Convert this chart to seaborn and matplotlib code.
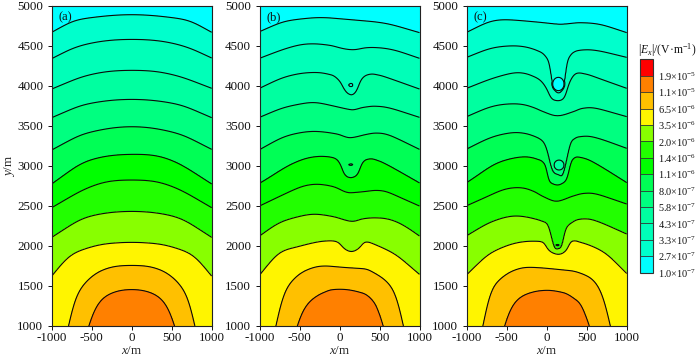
import numpy as np
import matplotlib
matplotlib.use("Agg")
import matplotlib.pyplot as plt
import seaborn as sns

# Contour-line heights: (x in m, y in m) for the 11 lines, top to bottom
a_x = [-1000, -813, -479, 0, 479, 813, 1000]
A_LINES = [
    (a_x, [4671, 4775, 4858, 4892, 4858, 4775, 4671]),
    (a_x, [4342, 4437, 4542, 4583, 4542, 4437, 4350]),
    ([-1000, -729, -396, 0, 396, 729, 1000], [3962, 4075, 4167, 4196, 4167, 4075, 3971]),
    ([-1000, -729, -396, 0, 396, 729, 1000], [3604, 3721, 3804, 3833, 3804, 3721, 3604]),
    ([-1000, -729, -396, 0, 396, 729, 1000], [3200, 3346, 3450, 3492, 3450, 3346, 3208]),
    ([-1000, -729, -396, 0, 396, 729, 1000], [2775, 2971, 3108, 3146, 3108, 2950, 2775]),
    ([-1000, -729, -396, 0, 396, 729, 1000], [2479, 2637, 2783, 2825, 2783, 2637, 2479]),
    ([-1000, -729, -396, 0, 396, 729, 1000], [2108, 2283, 2400, 2433, 2400, 2283, 2108]),
    ([-1000, -854, -604, -312, 0, 312, 604, 854, 1000], [1625, 1804, 1958, 2029, 2046, 2029, 1958, 1804, 1625]),
    ([-1000, -820, -792, -771, -737, -646, -554, -438, -312, -188, 0, 188, 312, 438, 554, 646, 737, 771, 792, 820, 1000],
     [400, 700, 1000, 1200, 1325, 1471, 1575, 1667, 1721, 1750, 1758, 1750, 1721, 1667, 1575, 1471, 1325, 1200, 1000, 700, 400]),
    ([-1000, -590, -554, -479, -396, -312, -146, 0, 146, 312, 396, 479, 554, 590, 1000],
     [300, 700, 1000, 1200, 1325, 1388, 1446, 1458, 1446, 1388, 1325, 1200, 1000, 700, 300]),
]
B_LINES = [
    ([-1000, -783, -492, -158, 142, 425, 717, 1000], [4679, 4775, 4837, 4854, 4829, 4804, 4750, 4667]),
    ([-1000, -783, -533, -325, -117, 50, 175, 342, 508, 758, 1000],
     [4346, 4429, 4508, 4529, 4508, 4467, 4454, 4479, 4479, 4429, 4346]),
    ([-1000, -783, -533, -263, -96, 8, 62, 142, 217, 267, 342, 467, 717, 1000],
     [3971, 4075, 4150, 4171, 4138, 4054, 3950, 3887, 3942, 4075, 4138, 4150, 4063, 3962]),
    ([-1000, -783, -492, -263, -75, 142, 300, 467, 717, 1000],
     [3608, 3700, 3775, 3792, 3750, 3704, 3733, 3750, 3700, 3608]),
    ([-1000, -783, -492, -263, -33, 142, 342, 467, 717, 1000],
     [3204, 3325, 3417, 3433, 3400, 3354, 3396, 3417, 3346, 3208]),
    ([-1000, -929, -700, -450, -221, -54, 17, 50, 154, 237, 279, 342, 467, 717, 1000],
     [2783, 2825, 2971, 3088, 3125, 3096, 3013, 2908, 2854, 2908, 3033, 3083, 3083, 2950, 2788]),
    ([-1000, -783, -533, -263, -75, 133, 300, 508, 717, 1000],
     [2500, 2604, 2721, 2775, 2741, 2666, 2679, 2700, 2625, 2500]),
    ([-1000, -825, -533, -283, -75, 154, 300, 467, 717, 883, 1000],
     [2125, 2250, 2362, 2400, 2366, 2308, 2341, 2354, 2304, 2208, 2125]),
    ([-1000, -825, -533, -283, -33, 71, 154, 237, 321, 508, 758, 1000],
     [1637, 1854, 1987, 2050, 2054, 1958, 1929, 1966, 2050, 1991, 1854, 1646]),
    ([-1000, -825, -796, -771, -658, -450, -200, 50, 300, 508, 675, 767, 800, 830, 1000],
     [400, 700, 1000, 1208, 1500, 1687, 1754, 1733, 1716, 1625, 1479, 1250, 1000, 700, 400]),
    ([-1000, -580, -546, -492, -325, -117, 50, 300, 467, 542, 554, 590, 1000],
     [300, 700, 1000, 1167, 1354, 1450, 1458, 1408, 1271, 1125, 1000, 700, 300]),
]
C_LINES = [
    ([-1000, -792, -417, -125, 125, 458, 750, 1000], [4671, 4775, 4825, 4800, 4775, 4792, 4750, 4667]),
    ([-1000, -792, -417, -208, -62, 21, 50, 58, 83, 146, 208, 233, 237, 258, 333, 400, 479, 708, 1000],
     [4358, 4442, 4504, 4479, 4417, 4325, 4200, 4054, 3958, 3908, 3950, 4054, 4200, 4325, 4421, 4447, 4458, 4429, 4358]),
    ([-1000, -792, -417, -187, -62, 8, 42, 146, 229, 279, 354, 458, 708, 1000],
     [3971, 4054, 4167, 4137, 4054, 3950, 3867, 3817, 3867, 4033, 4150, 4167, 4075, 3971]),
    ([-1000, -792, -375, -208, -42, 146, 333, 479, 708, 1000],
     [3617, 3708, 3779, 3750, 3679, 3629, 3679, 3733, 3700, 3617]),
    ([-1000, -792, -417, -208, -42, 21, 50, 83, 146, 217, 250, 292, 340, 396, 542, 750, 1000],
     [3212, 3317, 3421, 3396, 3304, 3137, 2992, 2917, 2892, 2917, 3075, 3270, 3335, 3367, 3375, 3312, 3221]),
    ([-1000, -937, -708, -375, -208, -83, 0, 8, 42, 146, 229, 271, 279, 312, 396, 500, 750, 1000],
     [2792, 2833, 2992, 3108, 3117, 3075, 2992, 2867, 2792, 2762, 2804, 2887, 2950, 3075, 3117, 3096, 2950, 2792]),
    ([-1000, -792, -583, -375, -208, -42, 146, 333, 500, 708, 1000],
     [2504, 2596, 2692, 2733, 2708, 2617, 2562, 2625, 2667, 2625, 2525]),
    ([-1000, -792, -542, -375, -167, -42, 33, 62, 83, 146, 200, 217, 271, 396, 542, 750, 1000],
     [2129, 2254, 2354, 2379, 2346, 2304, 2221, 2096, 2000, 1967, 2000, 2158, 2262, 2333, 2342, 2262, 2150]),
    ([-1000, -792, -583, -375, -208, -42, 21, 146, 250, 300, 375, 583, 792, 1000],
     [1642, 1846, 1971, 2042, 2062, 2046, 1950, 1896, 1950, 2054, 2062, 1992, 1867, 1658]),
    ([-1000, -820, -792, -771, -667, -458, -250, 0, 292, 542, 708, 783, 800, 830, 1000],
     [400, 700, 1000, 1283, 1512, 1679, 1737, 1721, 1692, 1617, 1408, 1117, 1000, 700, 400]),
    ([-1000, -576, -542, -479, -333, -167, 0, 208, 396, 521, 550, 586, 1000],
     [300, 700, 1000, 1200, 1367, 1429, 1446, 1417, 1304, 1117, 1000, 700, 300]),
]
# Closed loops: (level, centre x, centre y, half width, half height)
A_LOOPS = []
B_LOOPS = [(2, 142, 4012, 25, 20), (5, 142, 3017, 24, 9)]
C_LOOPS = [(1, 146, 4025, 71, 83), (4, 154, 3012, 62, 62), (7, 137, 2012, 20, 8)]
DIP_CENTRES = [None, 142, 146]

PANEL_NAMES = ["(a)", "(b)", "(c)"]
LEVEL_LABELS = ["1.0", "2.7", "3.3", "4.3", "5.8", "8.0", "1.1", "1.4", "2.0", "3.5", "6.5", "1.1", "1.9"]
LEVEL_EXPONENTS = [7, 7, 7, 7, 7, 7, 6, 6, 6, 6, 6, 5, 5]
COLORS = ["#00FFFF", "#00FFCC", "#00FFB8", "#00FFA0", "#00FF80", "#00FF55", "#00FF00",
          "#22FF00", "#88FF00", "#FFF500", "#FFC000", "#FF8000", "#FF0000"]
X_TICKS = [-1000, -500, 0, 500, 1000]
Y_TICKS = [1000, 1500, 2000, 2500, 3000, 3500, 4000, 4500, 5000]

sns.set_theme(style="ticks", rc={"axes.unicode_minus": False})
plt.rcParams.update({
    "font.family": ["Liberation Serif", "DejaVu Sans"],
    "mathtext.fontset": "custom",
    "mathtext.rm": "Liberation Serif",
    "mathtext.it": "Liberation Serif:italic",
    "mathtext.default": "regular",
    "font.size": 9,
    "axes.linewidth": 0.8,
    "axes.edgecolor": "#222222",
    "xtick.color": "#111111",
    "ytick.color": "#111111",
    "text.color": "#111111",
})
palette = sns.color_palette(COLORS)
cmap = matplotlib.colors.ListedColormap(palette)
levels = np.arange(0, 14)

gx = np.arange(-1000, 1001, 10.0)
gy = np.arange(1000, 5001, 5.0)


def akima(xs, ys, xq):
    """Smooth curve through the read points, without ringing beside steep walls."""
    xs = np.asarray(xs, float)
    ys = np.asarray(ys, float)
    h = np.diff(xs)
    d = np.diff(ys) / h
    dd = np.r_[2 * d[0] - d[1], d[0] * 1.0, d, d[-1] * 1.0, 2 * d[-1] - d[-2]]
    w1 = np.abs(dd[3:] - dd[2:-1])
    w2 = np.abs(dd[1:-2] - dd[:-3])
    tot = w1 + w2
    safe = np.where(tot > 1e-9, tot, 1.0)
    m = np.where(tot > 1e-9, (w1 * dd[1:-2] + w2 * dd[2:-1]) / safe, 0.5 * (dd[1:-2] + dd[2:-1]))
    k = np.clip(np.searchsorted(xs, xq) - 1, 0, len(h) - 1)
    t = (xq - xs[k]) / h[k]
    return ((2 * t**3 - 3 * t**2 + 1) * ys[k] + (t**3 - 2 * t**2 + t) * h[k] * m[k]
            + (-2 * t**3 + 3 * t**2) * ys[k + 1] + (t**3 - t**2) * h[k] * m[k + 1])


def gauss(values, sigma):
    half = int(4 * sigma)
    kernel = np.exp(-0.5 * (np.arange(-half, half + 1) / sigma) ** 2)
    kernel /= kernel.sum()
    padded = np.pad(values, half, mode="reflect", reflect_type="odd")
    return np.convolve(padded, kernel, mode="valid")


def smooth(values, dip):
    """Light smoothing beside a dip, where walls are steep; heavier everywhere else."""
    soft = gauss(values, 7.0)
    if dip is None:
        return soft
    w = np.clip((np.abs(gx - dip) - 220) / 130, 0, 1)
    w = w * w * (3 - 2 * w)
    return w * soft + (1 - w) * gauss(values, 1.8)


def build_field(lines, loops, dip):
    heights = np.array([smooth(akima(xs, ys, gx), dip) for xs, ys in lines])
    heights = np.minimum.accumulate(heights - np.arange(len(lines))[:, None] * 1e-3, axis=0)
    idx = np.arange(1, len(lines) + 1, dtype=float)
    field = np.zeros((gy.size, gx.size))
    for j in range(gx.size):
        h = heights[:, j]
        knots_y = np.r_[h[-1] - 300, h[::-1], h[0] + 300]
        knots_s = np.r_[11.95, idx[::-1], 0.05]
        field[:, j] = np.interp(gy, knots_y, knots_s)
    X, Y = np.meshgrid(gx, gy)
    for level, cx, cy, rx, ry in loops:
        r2 = ((X - cx) / rx) ** 2 + ((Y - cy) / ry) ** 2
        field = np.minimum(field, level + np.maximum((r2 - 1) * 4, -0.5))
    return field


fig = plt.figure(figsize=(7.0, 3.59), dpi=100)
W, H = 700.0, 359.0
lefts = [51.7, 259.5, 466.7]
cf = None
for left, name, lines, loops, dip in zip(lefts, PANEL_NAMES, [A_LINES, B_LINES, C_LINES],
                                         [A_LOOPS, B_LOOPS, C_LOOPS], DIP_CENTRES):
    ax = fig.add_axes([left / W, (H - 326) / H, 160 / W, 320 / H])
    field = build_field(lines, loops, dip)
    cf = ax.contourf(gx, gy, field, levels=levels, cmap=cmap, vmin=0, vmax=13)
    ax.contour(gx, gy, field, levels=np.arange(1, 12), colors="#0a0a0a", linewidths=0.8)
    ax.set_xlim(-1000, 1000)
    ax.set_ylim(1000, 5000)
    ax.set_xticks(X_TICKS)
    ax.set_yticks(Y_TICKS)
    ax.set_xticklabels([str(t) for t in X_TICKS])
    ax.tick_params(direction="out", length=3, width=0.7, labelsize=9.4, pad=3)
    ax.tick_params(axis="x", pad=1.5)
    ax.set_xlabel(r"$\mathit{x}$/m", fontsize=9.4, labelpad=0.5)
    if name == "(a)":
        ax.set_ylabel(r"$\mathit{y}$/m", fontsize=9.4, labelpad=0)
    ax.text(-915, 4860, name, fontsize=9, va="center", ha="left")

cax = fig.add_axes([639.5 / W, (H - 272.7) / H, 13.2 / W, 213.4 / H])
cbar = fig.colorbar(cf, cax=cax, ticks=np.arange(13), spacing="uniform", drawedges=True)
cbar.ax.set_yticklabels([rf"{v}×10$^{{-{e}}}$" for v, e in zip(LEVEL_LABELS, LEVEL_EXPONENTS)])
cbar.ax.tick_params(length=0, labelsize=7.4, pad=3.8)
cbar.outline.set_edgecolor("#333333")
cbar.outline.set_linewidth(0.8)
cbar.dividers.set_color("#333333")
cbar.dividers.set_linewidth(0.6)
fig.text(667.7 / W, (H - 50.5) / H, r"|$\mathit{E_x}$|/(V·m$^{-1}$)", fontsize=8.4, ha="center", va="center")

fig.savefig("out.png", dpi=100)
